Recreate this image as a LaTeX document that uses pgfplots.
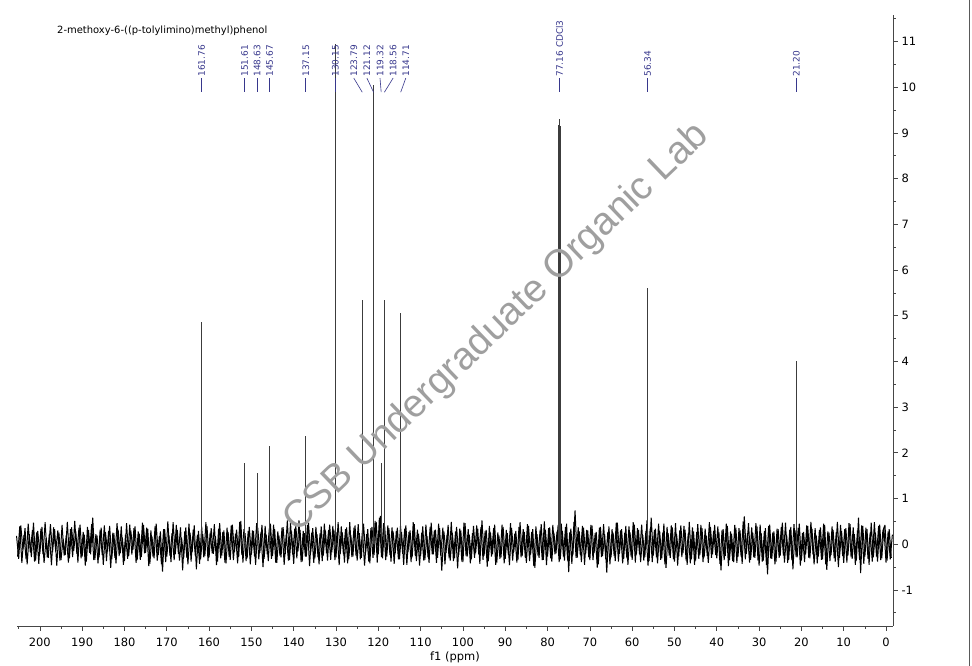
\documentclass[border=0pt]{standalone}
\usepackage{pgfplots}
\pgfplotsset{compat=1.18}
\usepackage{fontspec}
\setmainfont{DejaVu Sans}
\newfontfamily\wmfont{Liberation Sans}
\definecolor{peakblue}{RGB}{55,55,140}
\definecolor{axgray}{RGB}{70,70,70}
\definecolor{specgray}{RGB}{60,60,60}

\begin{document}
\begin{tikzpicture}
\useasboundingbox (0,0) rectangle (972bp,666bp);
\begin{axis}[
  at={(17bp,40bp)}, anchor=south west,
  scale only axis, width=876bp, height=611bp,
  x dir=reverse,
  xmin=-1.65, xmax=205.4, ymin=-1.79, ymax=11.58,
  axis x line=bottom, axis y line=right,
  every inner x axis line/.append style={-},
  every inner y axis line/.append style={-},
  axis line style={-, draw=axgray, line width=0.8bp},
  xtick={0,10,...,200}, minor xtick={5,15,...,205},
  ytick={-1,0,...,11}, minor ytick={-1.5,-0.5,...,11.5},
  tick align=outside,
  major tick length=5bp, minor tick length=3bp,
  tick style={draw=axgray, line width=0.6bp},
  tick label style={font=\fontsize{11.5}{13}\selectfont, text=black},
  xticklabel style={yshift=-3bp},
  /pgf/number format/assume math mode=true,
  clip=false,
]
% baseline noise, first half of the points
\addplot[black, line width=1bp, line join=bevel] coordinates {
(205.5,0.18) (205.0,-0.32) (204.5,0.41) (204.0,-0.12) (203.5,0.35) (203.0,-0.44) (202.5,0.22) (202.0,-0.28) (201.5,0.47) (201.0,-0.36)
(200.5,0.29) (200.0,-0.21) (199.5,0.38) (199.0,-0.41) (198.5,0.14) (198.0,-0.30) (197.5,0.44) (197.0,-0.18) (196.5,0.33) (196.0,-0.47)
(195.5,0.26) (195.0,-0.35) (194.5,0.12) (194.0,-0.24) (193.5,0.49) (193.0,-0.31) (192.5,0.37) (192.0,-0.15) (191.5,0.28) (191.0,-0.40)
(190.5,0.43) (190.0,-0.27) (189.5,0.21) (189.0,-0.38) (188.5,0.31) (188.0,-0.22) (187.5,0.58) (187.0,-0.34) (186.5,0.19) (186.0,-0.29)
(185.5,0.36) (185.0,-0.45) (184.5,0.27) (184.0,-0.16) (183.5,0.40) (183.0,-0.33) (182.5,0.24) (182.0,-0.42) (181.5,0.32) (181.0,-0.20)
(180.5,0.15) (180.0,-0.37) (179.5,0.46) (179.0,-0.26) (178.5,0.30) (178.0,-0.13) (177.5,0.39) (177.0,-0.35) (176.5,0.23) (176.0,-0.28)
(175.5,0.42) (175.0,-0.19) (174.5,0.34) (174.0,-0.43) (173.5,0.17) (173.0,-0.31) (172.5,0.45) (172.0,-0.24) (171.5,0.28) (171.0,-0.60)
(170.5,0.33) (170.0,-0.27) (169.5,0.20) (169.0,-0.39) (168.5,0.48) (168.0,-0.22) (167.5,0.31) (167.0,-0.36) (166.5,0.14) (166.0,-0.30)
(165.5,0.37) (165.0,-0.44) (164.5,0.25) (164.0,-0.18) (163.5,0.41) (163.0,-0.55) (162.5,0.29) (162.0,-0.33) (161.5,0.22) (161.0,-0.26)
(160.5,0.40) (160.0,-0.29) (159.5,0.35) (159.0,-0.21) (158.5,0.18) (158.0,-0.38) (157.5,0.46) (157.0,-0.25) (156.5,0.30) (156.0,-0.42)
(155.5,0.27) (155.0,-0.34) (154.5,0.43) (154.0,-0.17) (153.5,0.32) (153.0,-0.28) (152.5,0.51) (152.0,-0.40) (151.5,0.24) (151.0,-0.31)
(150.5,0.38) (150.0,-0.23) (149.5,0.29) (149.0,-0.45) (148.5,0.36) (148.0,-0.19) (147.5,0.42) (147.0,-0.32) (146.5,0.21) (146.0,-0.37)
(145.5,0.45) (145.0,-0.26) (144.5,0.33) (144.0,-0.41) (143.5,0.19) (143.0,-0.29) (142.5,0.37) (142.0,-0.22) (141.5,0.52) (141.0,-0.35)
(140.5,0.28) (140.0,-0.43) (139.5,0.40) (139.0,-0.16) (138.5,0.31) (138.0,-0.38) (137.5,0.24) (137.0,-0.27) (136.5,0.47) (136.0,-0.20)
(135.5,0.35) (135.0,-0.31) (134.5,0.22) (134.0,-0.44) (133.5,0.39) (133.0,-0.25) (132.5,0.30) (132.0,-0.36) (131.5,0.43) (131.0,-0.18)
(130.5,0.32) (130.0,-0.29) (129.5,0.48) (129.0,-0.21) (128.5,0.26) (128.0,-0.40) (127.5,0.37) (127.0,-0.33) (126.5,0.19) (126.0,-0.27)
(125.5,0.41) (125.0,-0.36) (124.5,0.24) (124.0,-0.30) (123.5,0.45) (123.0,-0.19) (122.5,0.33) (122.0,-0.42) (121.5,0.38) (121.0,-0.24)
(120.5,0.49) (120.0,-0.22) (119.5,0.62) (119.0,-0.31) (118.5,0.40) (118.0,-0.27) (117.5,0.35) (117.0,-0.38) (116.5,0.28) (116.0,-0.20)
(115.5,0.36) (115.0,-0.33) (114.5,0.27) (114.0,-0.45) (113.5,0.41) (113.0,-0.18) (112.5,0.30) (112.0,-0.29) (111.5,0.44) (111.0,-0.37)
(110.5,0.23) (110.0,-0.26) (109.5,0.39) (109.0,-0.34) (108.5,0.18) (108.0,-0.41) (107.5,0.47) (107.0,-0.22) (106.5,0.32) (106.0,-0.30)
(105.5,0.35) (105.0,-0.58) (104.5,0.28) (104.0,-0.19) (103.5,0.42) (103.0,-0.36) (102.5,0.25) (102.0,-0.31) (101.5,0.38) (101.0,-0.24)
(100.5,0.30) (100.0,-0.39) (99.5,0.46) (99.0,-0.27) (98.5,0.21) (98.0,-0.33) (97.5,0.40) (97.0,-0.20) (96.5,0.34) (96.0,-0.43)
(95.5,0.52) (95.0,-0.25) (94.5,0.31) (94.0,-0.37) (93.5,0.26) (93.0,-0.22) (92.5,0.43) (92.0,-0.40) (91.5,0.19) (91.0,-0.29)
(90.5,0.38) (90.0,-0.32) (89.5,0.24) (89.0,-0.46) (88.5,0.35) (88.0,-0.18) (87.5,0.29) (87.0,-0.35) (86.5,0.48) (86.0,-0.26)
(85.5,0.27) (85.0,-0.41) (84.5,0.40) (84.0,-0.23) (83.5,0.33) (83.0,-0.52) (82.5,0.22) (82.0,-0.30) (81.5,0.44) (81.0,-0.34)
(80.5,0.31) (80.0,-0.27) (79.5,0.37) (79.0,-0.38) (78.5,0.25) (78.0,-0.20) (77.5,0.42) (77.0,-0.33) (76.5,0.29) (76.0,-0.36)
(75.5,0.45) (75.0,-0.61) (74.5,0.34) (74.0,-0.24) (73.5,0.74) (73.0,-0.30) (72.5,0.28) (72.0,-0.39) (71.5,0.36) (71.0,-0.22)
(70.5,0.30) (70.0,-0.35) (69.5,0.41) (69.0,-0.19) (68.5,0.27) (68.0,-0.44) (67.5,0.38) (67.0,-0.26) (66.5,0.22) (66.0,-0.62)
(65.5,0.39) (65.0,-0.29) (64.5,0.25) (64.0,-0.37) (63.5,0.47) (63.0,-0.21) (62.5,0.33) (62.0,-0.32) (61.5,0.40) (61.0,-0.45)
(60.5,0.26) (60.0,-0.34) (59.5,0.43) (59.0,-0.23) (58.5,0.31) (58.0,-0.39) (57.5,0.20) (57.0,-0.28) (56.5,0.52) (56.0,-0.37)
(55.5,0.58) (55.0,-0.25) (54.5,0.34) (54.0,-0.42) (53.5,0.29) (53.0,-0.31) (52.5,0.45) (52.0,-0.52) (51.5,0.24) (51.0,-0.30)
(50.5,0.37) (50.0,-0.38) (49.5,0.22) (49.0,-0.27) (48.5,0.41) (48.0,-0.20) (47.5,0.32) (47.0,-0.45) (46.5,0.49) (46.0,-0.33)
(45.5,0.28) (45.0,-0.36) (44.5,0.44) (44.0,-0.24) (43.5,0.35) (43.0,-0.29) (42.5,0.19) (42.0,-0.41) (41.5,0.38) (41.0,-0.22)
(40.5,0.42) (40.0,-0.31) (39.5,0.27) (39.0,-0.57) (38.5,0.33) (38.0,-0.26) (37.5,0.40) (37.0,-0.35) (36.5,0.23) (36.0,-0.39)
(35.5,0.36) (35.0,-0.28) (34.5,0.30) (34.0,-0.43) (33.5,0.61) (33.0,-0.21) (32.5,0.46) (32.0,-0.34) (31.5,0.25) (31.0,-0.30)
(30.5,0.39) (30.0,-0.47) (29.5,0.24) (29.0,-0.36) (28.5,0.35) (28.0,-0.66) (27.5,0.43) (27.0,-0.32) (26.5,0.28) (26.0,-0.38)
(25.5,0.33) (25.0,-0.25) (24.5,0.47) (24.0,-0.40) (23.5,0.21) (23.0,-0.34) (22.5,0.38) (22.0,-0.55) (21.5,0.30) (21.0,-0.29)
(20.5,0.45) (20.0,-0.36) (19.5,0.27) (19.0,-0.22) (18.5,0.40) (18.0,-0.31) (17.5,0.34) (17.0,-0.44) (16.5,0.19) (16.0,-0.27)
(15.5,0.37) (15.0,-0.33) (14.5,0.42) (14.0,-0.56) (13.5,0.26) (13.0,-0.24) (12.5,0.31) (12.0,-0.38) (11.5,0.49) (11.0,-0.30)
(10.5,0.29) (10.0,-0.41) (9.5,0.35) (9.0,-0.25) (8.5,0.44) (8.0,-0.32) (7.5,0.22) (7.0,-0.36) (6.5,0.58) (6.0,-0.63)
(5.5,0.40) (5.0,-0.27) (4.5,0.33) (4.0,-0.45) (3.5,0.47) (3.0,-0.29) (2.5,0.25) (2.0,-0.38) (1.5,0.43) (1.0,-0.31)
(0.5,0.36) (0.0,-0.40) (-0.5,0.28) (-1.0,-0.33) (-1.5,0.21)
};
% baseline noise, second half of the points (between the first)
\addplot[black, line width=1bp, line join=bevel] coordinates {
(205.25,-0.27) (204.75,0.39) (204.25,-0.41) (203.75,0.20) (203.25,-0.33) (202.75,0.45) (202.25,-0.18) (201.75,0.31) (201.25,-0.38) (200.75,0.26)
(200.25,-0.43) (199.75,0.34) (199.25,-0.22) (198.75,0.48) (198.25,-0.29) (197.75,0.23) (197.25,-0.46) (196.75,0.37) (196.25,-0.16) (195.75,0.30)
(195.25,-0.36) (194.75,0.42) (194.25,-0.25) (193.75,0.19) (193.25,-0.40) (192.75,0.33) (192.25,-0.28) (191.75,0.51) (191.25,-0.21) (190.75,0.36)
(190.25,-0.31) (189.75,0.27) (189.25,-0.47) (188.75,0.38) (188.25,-0.19) (187.75,0.44) (187.25,-0.35) (186.75,0.22) (186.25,-0.42) (185.75,0.32)
(185.25,-0.24) (184.75,0.41) (184.25,-0.37) (183.75,0.29) (183.25,-0.52) (182.75,0.25) (182.25,-0.30) (181.75,0.46) (181.25,-0.26) (180.75,0.39)
(180.25,-0.45) (179.75,0.21) (179.25,-0.32) (178.75,0.43) (178.25,-0.23) (177.75,0.35) (177.25,-0.41) (176.75,0.28) (176.25,-0.34) (175.75,0.47)
(175.25,-0.20) (174.75,0.36) (174.25,-0.48) (173.75,0.30) (173.25,-0.27) (172.75,0.40) (172.25,-0.36) (171.75,0.18) (171.25,-0.44) (170.75,0.33)
(170.25,-0.39) (169.75,0.50) (169.25,-0.25) (168.75,0.24) (168.25,-0.35) (167.75,0.42) (167.25,-0.21) (166.75,0.37) (166.25,-0.57) (165.75,0.28)
(165.25,-0.30) (164.75,0.45) (164.25,-0.38) (163.75,0.32) (163.25,-0.26) (162.75,0.21) (162.25,-0.43) (161.75,0.39) (161.25,-0.29) (160.75,0.48)
(160.25,-0.37) (159.75,0.25) (159.25,-0.20) (158.75,0.44) (158.25,-0.46) (157.75,0.34) (157.25,-0.31) (156.75,0.27) (156.25,-0.40) (155.75,0.36)
(155.25,-0.28) (154.75,0.41) (154.25,-0.35) (153.75,0.23) (153.25,-0.42) (152.75,0.49) (152.25,-0.24) (151.75,0.33) (151.25,-0.37) (150.75,0.29)
(150.25,-0.44) (149.75,0.30) (149.25,-0.27) (148.75,0.46) (148.25,-0.33) (147.75,0.26) (147.25,-0.50) (146.75,0.40) (146.25,-0.22) (145.75,0.35)
(145.25,-0.32) (144.75,0.43) (144.25,-0.40) (143.75,0.28) (143.25,-0.25) (142.75,0.37) (142.25,-0.45) (141.75,0.21) (141.25,-0.36) (140.75,0.47)
(140.25,-0.23) (139.75,0.34) (139.25,-0.31) (138.75,0.52) (138.25,-0.39) (137.75,0.29) (137.25,-0.27) (136.75,0.42) (136.25,-0.48) (135.75,0.25)
(135.25,-0.41) (134.75,0.38) (134.25,-0.29) (133.75,0.24) (133.25,-0.37) (132.75,0.45) (132.25,-0.20) (131.75,0.31) (131.25,-0.34) (130.75,0.40)
(130.25,-0.35) (129.75,0.27) (129.25,-0.46) (128.75,0.39) (128.25,-0.22) (127.75,0.33) (127.25,-0.42) (126.75,0.48) (126.25,-0.28) (125.75,0.36)
(125.25,-0.26) (124.75,0.44) (124.25,-0.33) (123.75,0.30) (123.25,-0.47) (122.75,0.22) (122.25,-0.38) (121.75,0.35) (121.25,-0.30) (120.75,0.51)
(120.25,-0.40) (119.75,0.58) (119.25,-0.28) (118.75,0.46) (118.25,-0.35) (117.75,0.41) (117.25,-0.24) (116.75,0.37) (116.25,-0.43) (115.75,0.29)
(115.25,-0.33) (114.75,0.40) (114.25,-0.21) (113.75,0.34) (113.25,-0.45) (112.75,0.27) (112.25,-0.39) (111.75,0.48) (111.25,-0.26) (110.75,0.32)
(110.25,-0.47) (109.75,0.25) (109.25,-0.36) (108.75,0.43) (108.25,-0.29) (107.75,0.38) (107.25,-0.22) (106.75,0.30) (106.25,-0.41) (105.75,0.45)
(105.25,-0.25) (104.75,0.36) (104.25,-0.44) (103.75,0.21) (103.25,-0.31) (102.75,0.49) (102.25,-0.37) (101.75,0.28) (101.25,-0.53) (100.75,0.34)
(100.25,-0.38) (99.75,0.47) (99.25,-0.26) (98.75,0.33) (98.25,-0.42) (97.75,0.24) (97.25,-0.30) (96.75,0.41) (96.25,-0.23) (95.75,0.37)
(95.25,-0.34) (94.75,0.29) (94.25,-0.49) (93.75,0.40) (93.25,-0.27) (92.75,0.35) (92.25,-0.45) (91.75,0.26) (91.25,-0.32) (90.75,0.43)
(90.25,-0.42) (89.75,0.31) (89.25,-0.24) (88.75,0.46) (88.25,-0.36) (87.75,0.23) (87.25,-0.40) (86.75,0.38) (86.25,-0.29) (85.75,0.33)
(85.25,-0.30) (84.75,0.44) (84.25,-0.37) (83.75,0.27) (83.25,-0.48) (82.75,0.39) (82.25,-0.25) (81.75,0.32) (81.25,-0.35) (80.75,0.50)
(80.25,-0.46) (79.75,0.35) (79.25,-0.31) (78.75,0.42) (78.25,-0.22) (77.75,0.28) (77.25,-0.39) (76.75,0.45) (76.25,-0.27) (75.75,0.38)
(75.25,-0.36) (74.75,0.26) (74.25,-0.43) (73.75,0.49) (73.25,-0.30) (72.75,0.37) (72.25,-0.24) (71.75,0.40) (71.25,-0.45) (70.75,0.31)
(70.25,-0.29) (69.75,0.42) (69.25,-0.35) (68.75,0.24) (68.25,-0.51) (67.75,0.36) (67.25,-0.28) (66.75,0.44) (66.25,-0.33) (65.75,0.27)
(65.25,-0.44) (64.75,0.33) (64.25,-0.26) (63.75,0.47) (63.25,-0.38) (62.75,0.30) (62.25,-0.42) (61.75,0.25) (61.25,-0.31) (60.75,0.39)
(60.25,-0.27) (59.75,0.48) (59.25,-0.40) (58.75,0.35) (58.25,-0.23) (57.75,0.43) (57.25,-0.36) (56.75,0.29) (56.25,-0.47) (55.75,0.34)
(55.25,-0.39) (54.75,0.31) (54.25,-0.29) (53.75,0.45) (53.25,-0.34) (52.75,0.26) (52.25,-0.44) (51.75,0.38) (51.25,-0.25) (50.75,0.41)
(50.25,-0.33) (49.75,0.46) (49.25,-0.47) (48.75,0.30) (48.25,-0.28) (47.75,0.40) (47.25,-0.36) (46.75,0.23) (46.25,-0.42) (45.75,0.37)
(45.25,-0.45) (44.75,0.27) (44.25,-0.32) (43.75,0.42) (43.25,-0.39) (42.75,0.34) (42.25,-0.26) (41.75,0.48) (41.25,-0.30) (40.75,0.29)
(40.25,-0.24) (39.75,0.39) (39.25,-0.43) (38.75,0.31) (38.25,-0.35) (37.75,0.45) (37.25,-0.48) (36.75,0.28) (36.25,-0.37) (35.75,0.42)
(35.25,-0.41) (34.75,0.35) (34.25,-0.27) (33.75,0.50) (33.25,-0.33) (32.75,0.24) (32.25,-0.40) (31.75,0.37) (31.25,-0.29) (30.75,0.46)
(30.25,-0.36) (29.75,0.43) (29.25,-0.38) (28.75,0.29) (28.25,-0.46) (27.75,0.40) (27.25,-0.31) (26.75,0.26) (26.25,-0.44) (25.75,0.34)
(25.25,-0.30) (24.75,0.38) (24.25,-0.25) (23.75,0.47) (23.25,-0.41) (22.75,0.32) (22.25,-0.35) (21.75,0.44) (21.25,-0.28) (20.75,0.36)
(20.25,-0.47) (19.75,0.24) (19.25,-0.39) (18.75,0.41) (18.25,-0.30) (17.75,0.49) (17.25,-0.23) (16.75,0.35) (16.25,-0.42) (15.75,0.31)
(15.25,-0.34) (14.75,0.45) (14.25,-0.44) (13.75,0.28) (13.25,-0.37) (12.75,0.39) (12.25,-0.31) (11.75,0.27) (11.25,-0.50) (10.75,0.42)
(10.25,-0.26) (9.75,0.33) (9.25,-0.40) (8.75,0.46) (8.25,-0.29) (7.75,0.37) (7.25,-0.45) (6.75,0.30) (6.25,-0.34) (5.75,0.41)
(5.25,-0.43) (4.75,0.36) (4.25,-0.32) (3.75,0.25) (3.25,-0.38) (2.75,0.48) (2.25,-0.27) (1.75,0.40) (1.25,-0.35) (0.75,0.29)
(0.25,0.42) (-0.25,-0.36) (-0.75,0.33) (-1.25,-0.30)
};
% peaks
\addplot[ycomb, specgray, line width=0.7bp] coordinates {
(161.76,4.86) (151.61,1.77) (148.63,1.55) (145.67,2.14) (137.15,2.36)
(130.15,10.95) (123.79,5.34) (121.12,10.04) (119.32,1.77) (118.56,5.34)
(114.71,5.05) (77.37,9.18) (77.16,9.30) (76.95,9.16) (56.34,5.60) (21.20,4.00)
};
% peak labels
\foreach \lx/\px/\t in {161.76/161.76/161.76, 151.61/151.61/151.61, 148.63/148.63/148.63,
  145.67/145.67/145.67, 137.15/137.15/137.15, 130.15/130.15/130.15,
  125.8/123.79/123.79, 122.7/121.12/121.12, 119.6/119.32/119.32,
  116.5/118.56/118.56, 113.5/114.71/114.71, 77.16/77.16/77.16 CDCl3,
  56.34/56.34/56.34, 21.20/21.20/21.20} {
  \edef\tmp{\noexpand\draw[peakblue, line width=0.6bp] (axis cs:\lx,10.20) -- (axis cs:\px,9.89);
    \noexpand\node[rotate=90, anchor=west, inner sep=0.5bp, text=peakblue,
      font=\noexpand\fontsize{9}{10}\noexpand\selectfont] at (axis cs:\lx,10.22) {\t};}
  \tmp
}
\end{axis}
\node[anchor=west, inner sep=0, font=\fontsize{10}{12}\selectfont] at (57bp,635bp) {2-methoxy-6-((p-tolylimino)methyl)phenol};
\node[inner sep=0, font=\fontsize{11.5}{13}\selectfont] at (455bp,9bp) {f1 (ppm)};
\node[rotate=43.8, inner sep=0, text=gray!75, font=\wmfont\fontsize{39}{40}\selectfont] at (497bp,338bp) {CSB Undergraduate Organic Lab};
\draw[gray!70!black, line width=1bp] (969bp,0) -- (969bp,666bp);
\end{tikzpicture}
\end{document}
